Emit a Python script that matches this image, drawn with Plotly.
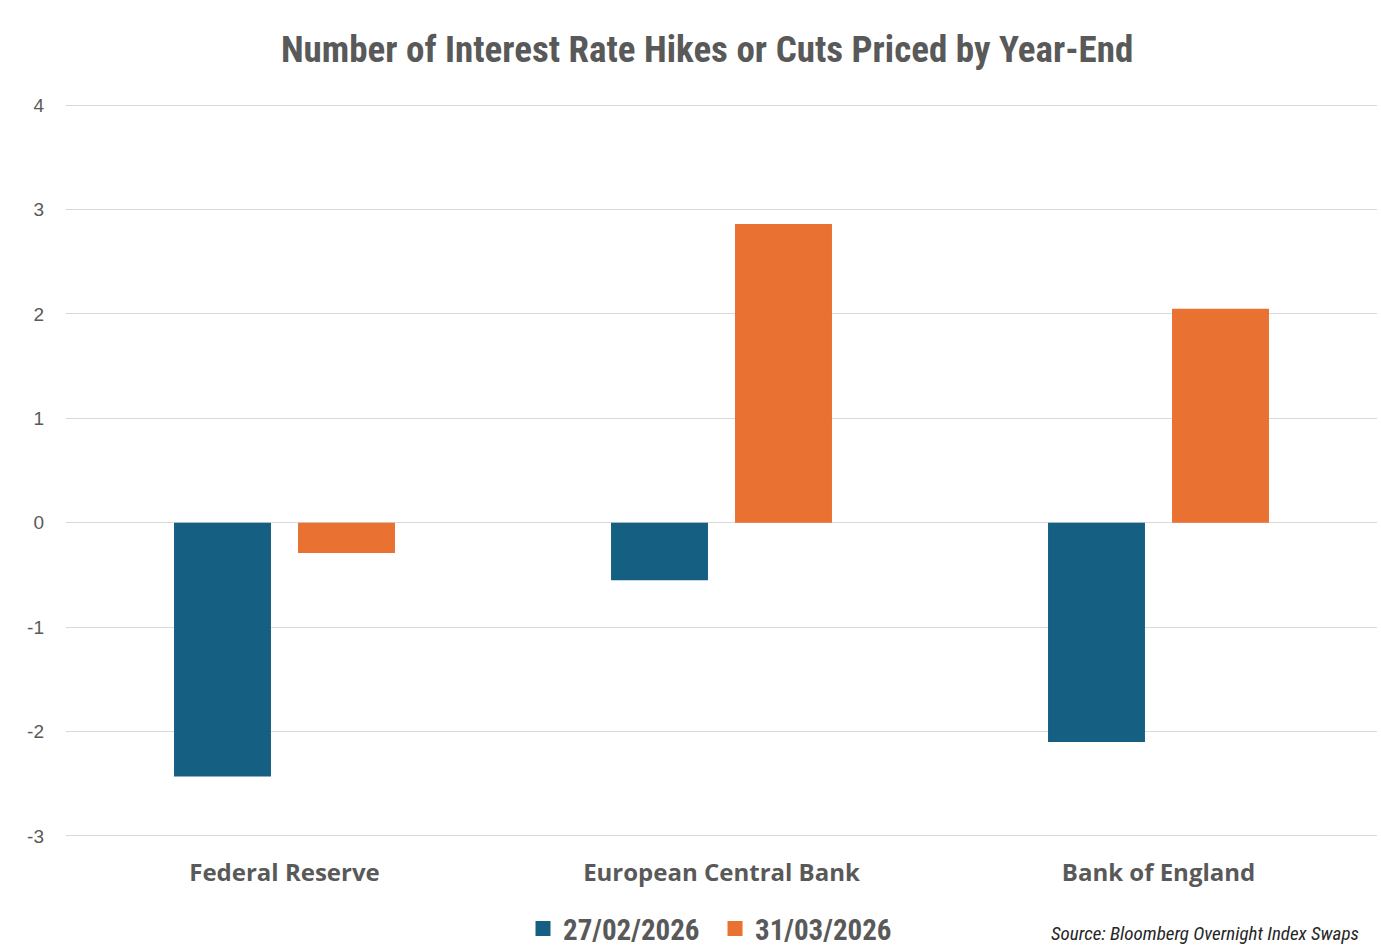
import plotly.graph_objects as go

categories = ["Federal Reserve", "European Central Bank", "Bank of England"]
series_names = ["27/02/2026", "31/03/2026"]
values_feb = [-2.43, -0.55, -2.1]
values_mar = [-0.29, 2.86, 2.05]
colors = ["#156082", "#E97132"]
y_ticks = [-3, -2, -1, 0, 1, 2, 3, 4]
y_tick_labels = ["-3", "-2", "-1", "0", "1", "2", "3", "4"]

title_text = "Number of Interest Rate Hikes or Cuts Priced by Year-End"
source_text = "Source: Bloomberg Overnight Index Swaps"

narrow = "Liberation Sans Narrow, Roboto Condensed, Roboto, sans-serif"

fig = go.Figure()
for name, vals, col in zip(series_names, [values_feb, values_mar], colors):
    fig.add_trace(go.Bar(x=categories, y=vals, name=name, marker_color=col,
                         marker_line_width=0, showlegend=False))
# legend entries with larger square symbols
for name, col in zip(series_names, colors):
    fig.add_trace(go.Scatter(x=[None], y=[None], mode="markers", name=name,
                             marker=dict(symbol="square", size=15, color=col)))

fig.update_layout(
    width=1381, height=947,
    margin=dict(l=66, r=4, t=104, b=110, autoexpand=False),
    paper_bgcolor="white", plot_bgcolor="white",
    barmode="group", bargap=0.4325, bargroupgap=0.218,
    title=dict(text="<b>" + title_text + "</b>", x=0.512, xanchor="center",
               y=0.948, yanchor="middle",
               font=dict(family=narrow, size=37, color="#595959")),
    xaxis=dict(showgrid=False, showline=False, ticks="", zeroline=False,
               tickfont=dict(family="Open Sans, Noto Sans, sans-serif", size=24,
                             color="#595959", weight="bold"),
               ticklabelstandoff=19),
    yaxis=dict(range=[-3.01, 4.01], tickvals=y_ticks, ticktext=y_tick_labels,
               showgrid=True,
               gridcolor="#D9D9D9", gridwidth=1.3, zeroline=True,
               zerolinecolor="#D9D9D9", zerolinewidth=1.3,
               tickfont=dict(family="Liberation Sans, Arial, sans-serif", size=19,
                             color="#595959"),
               ticklabelstandoff=21),
    legend=dict(orientation="h", x=0.3486, xanchor="left", y=-0.125, yanchor="middle",
                font=dict(family=narrow, size=29, color="#595959", weight="bold"),
                itemwidth=30, entrywidth=147, entrywidthmode="pixels",
                traceorder="normal"),
    annotations=[dict(text="<i>" + source_text + "</i>", xref="paper", yref="paper",
                      x=0.988, y=-0.132, xanchor="right", yanchor="middle",
                      showarrow=False,
                      font=dict(family=narrow, size=19, color="#262626"))],
)

fig.write_html("out.html")
